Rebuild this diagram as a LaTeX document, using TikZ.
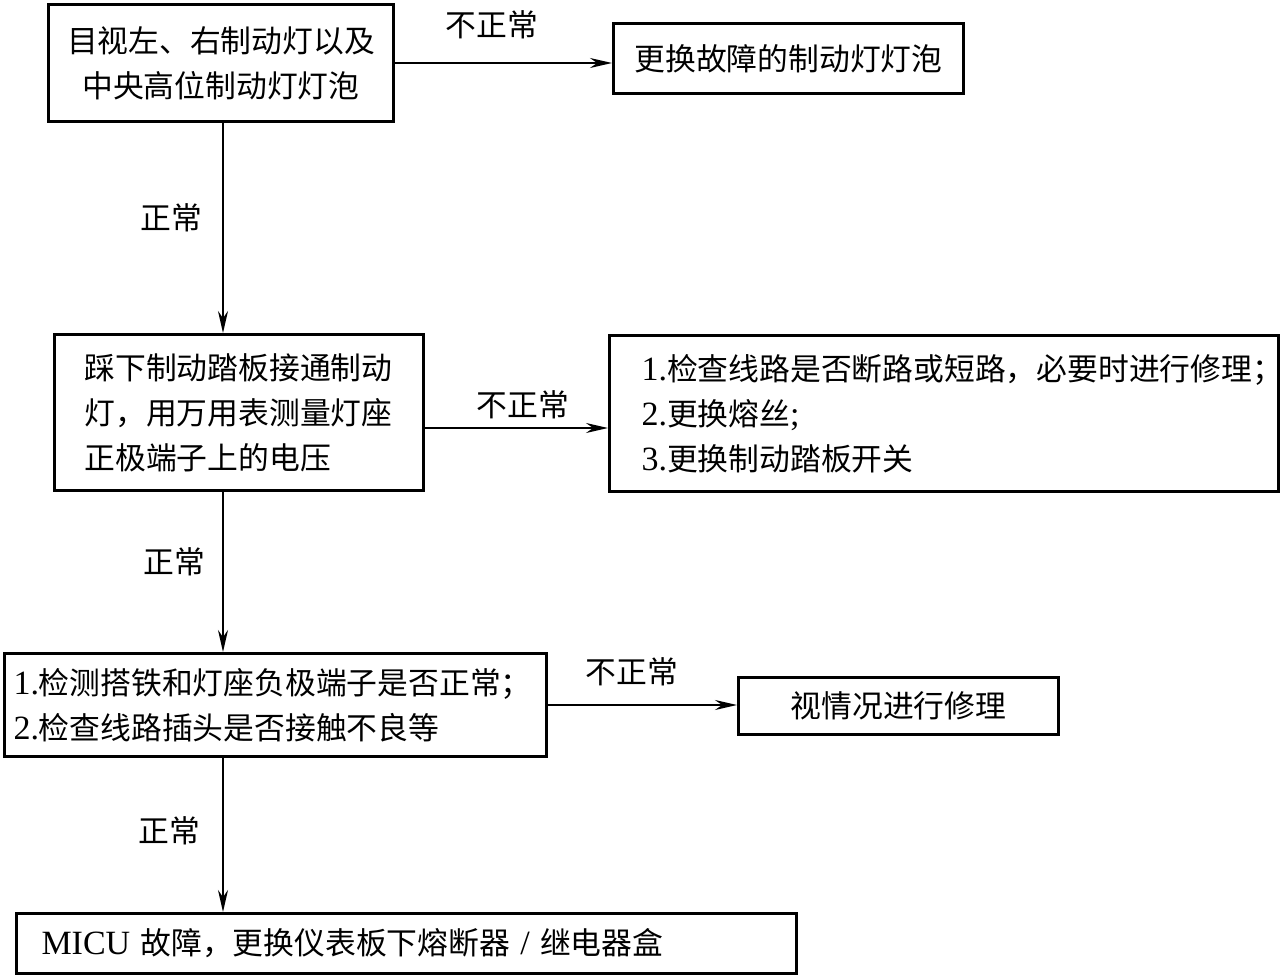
\documentclass[tikz,border=0pt]{standalone}
\usepackage{fontspec}
\setmainfont{Liberation Serif}
\newfontfamily\cjk{Noto Sans CJK SC}
\usetikzlibrary{arrows.meta}
\newcommand\lat[1]{{\rmfamily\fontsize{17}{22.5}\selectfont #1}}
\hfuzz=50pt

\begin{document}
\begin{tikzpicture}[x=0.5pt, y=-0.5pt,
    box/.style={draw, line width=1.5pt, anchor=north west, inner ysep=0pt,
        font=\cjk\fontsize{15.4}{22.5}\selectfont},
    arr/.style={line width=1pt, -{Stealth[length=11pt, width=5pt]}},
    lbl/.style={font=\cjk\fontsize{15.4}{18}\selectfont}]

    % Page frame
    \useasboundingbox (0,0) rectangle (1281,975);

    % Boxes
    \node[box, minimum width=172.5pt, minimum height=58.5pt, align=center] (look) at (47,3)
        {目视左、右制动灯以及\\中央高位制动灯灯泡};
    \node[box, minimum width=175pt, minimum height=35pt, align=center] (bulb) at (612,22)
        {更换故障的制动灯灯泡};
    \node[box, minimum width=184.5pt, minimum height=78pt, inner xsep=15pt, text width=154.5pt, align=left] (pedal) at (53,333)
        {踩下制动踏板接通制动\\灯，用万用表测量灯座\\正极端子上的电压};
    \node[box, minimum width=334.5pt, minimum height=78pt, inner xsep=16pt, text width=302.5pt, align=left] (wiring) at (608,334)
        {\lat{1.}检查线路是否断路或短路，必要时进行修理；\\\lat{2.}更换熔丝\lat{;}\\\lat{3.}更换制动踏板开关};
    \node[box, minimum width=271pt, minimum height=51.5pt, inner xsep=4.5pt, text width=262pt, align=left] (ground) at (3,652)
        {\lat{1.}检测搭铁和灯座负极端子是否正常；\\\lat{2.}检查线路插头是否接触不良等};
    \node[box, minimum width=160pt, minimum height=28.5pt, align=center] (repair) at (737,676)
        {视情况进行修理};
    \node[box, minimum width=390pt, minimum height=30pt, inner xsep=12.5pt, text width=365pt, align=left] (micu) at (15,912)
        {\lat{MICU }故障，更换仪表板下熔断器\lat{ / }继电器盒};

    % Connectors
    \coordinate (spine) at (223,0);
    \coordinate (tap) at (0,428);
    \draw[arr] (look.east) -- (look.east -| bulb.west);
    \draw[arr] (pedal.east |- tap) -- (wiring.west |- tap);
    \draw[arr] (ground.east) -- (ground.east -| repair.west);
    \draw[arr] (look.south -| spine) -- (pedal.north -| spine);
    \draw[arr] (pedal.south -| spine) -- (ground.north -| spine);
    \draw[arr] (ground.south -| spine) -- (micu.north -| spine);

    % Labels
    \node[lbl] (no1) at (492,25) {不正常};
    \node[lbl] (no2) at (523,405) {不正常};
    \node[lbl] (no3) at (632,672) {不正常};
    \node[lbl] (ok1) at (171,218) {正常};
    \node[lbl] (ok2) at (174,562) {正常};
    \node[lbl] (ok3) at (169,831) {正常};

\end{tikzpicture}
\end{document}
